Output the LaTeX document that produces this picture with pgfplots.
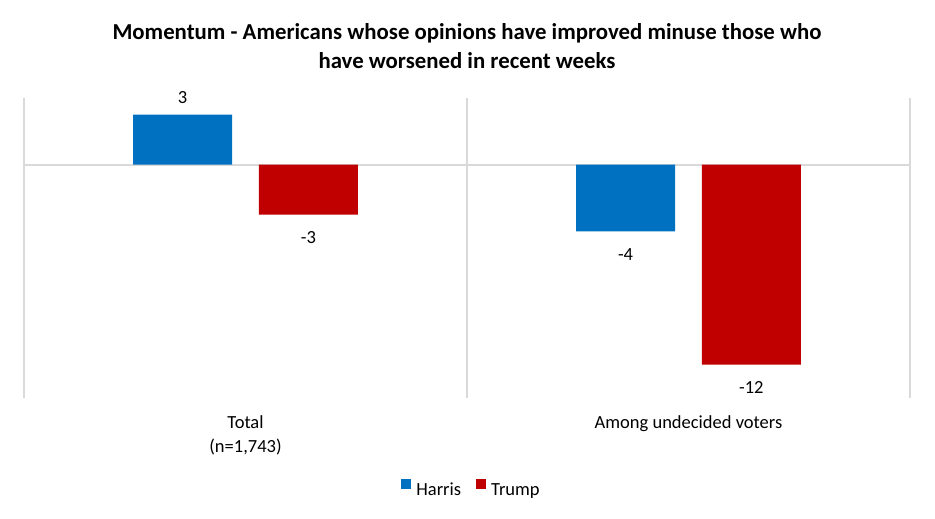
\documentclass[border=0pt]{standalone}
\usepackage{fontspec}
\setmainfont{Carlito}
\usepackage{pgfplots}
\pgfplotsset{compat=1.18}
\definecolor{harris}{HTML}{0070C0}
\definecolor{trump}{HTML}{C00000}
\definecolor{gridgray}{HTML}{D9D9D9}

\begin{document}
\begin{tikzpicture}[x=1pt,y=1pt]
\useasboundingbox (0,0) rectangle (935,519);
\begin{axis}[
    at={(24pt,121pt)}, anchor=south west,
    scale only axis, width=886pt, height=300pt,
    ybar, bar width=0.2235,
    xmin=-0.5, xmax=1.5, ymin=-14, ymax=4,
    axis line style={draw=none},
    major tick length=0pt, minor tick length=0pt,
    xtick={0,1},
    xticklabels={{Total\\(n=1,743)},{Among undecided voters}},
    xticklabel style={align=center, anchor=north, inner ysep=0pt, yshift=-17pt,
        font=\fontsize{18.5}{24.5}\selectfont},
    minor xtick={-0.5,0.5,1.5},
    xminorgrids=true,
    minor grid style={draw=gridgray, line width=2pt},
    ytick={0}, yticklabels={},
    ymajorgrids=true,
    major grid style={draw=gridgray, line width=2pt},
    /pgf/number format/assume math mode=true,
    nodes near coords,
    nodes near coords align={vertical},
    every node near coord/.append style={font=\fontsize{18.5}{22}\selectfont,
        inner xsep=0pt, inner ysep=14pt, yshift=-3pt, text=black},
    title={Momentum - Americans whose opinions have improved minuse those who\\have worsened in recent weeks},
    title style={align=center, anchor=center, at={(0.5,1.152)},
        font=\bfseries\fontsize{22.8}{29}\selectfont},
    legend columns=-1,
    legend style={at={(0.504,-0.3)}, anchor=center, draw=none,
        font=\fontsize{18.5}{22}\selectfont, nodes={inner sep=0pt},
        /tikz/every odd column/.append style={column sep=5pt},
        /tikz/every even column/.append style={column sep=15pt}},
    legend image code/.code={\fill[#1] (0pt,1pt) rectangle (10pt,11pt);},
]
\addplot[fill=harris, draw=none, bar shift=-0.142] coordinates {(0,3) (1,-4)};
\addplot[fill=trump, draw=none, bar shift=0.142] coordinates {(0,-3) (1,-12)};
\legend{Harris, Trump}
\end{axis}
\end{tikzpicture}
\end{document}
